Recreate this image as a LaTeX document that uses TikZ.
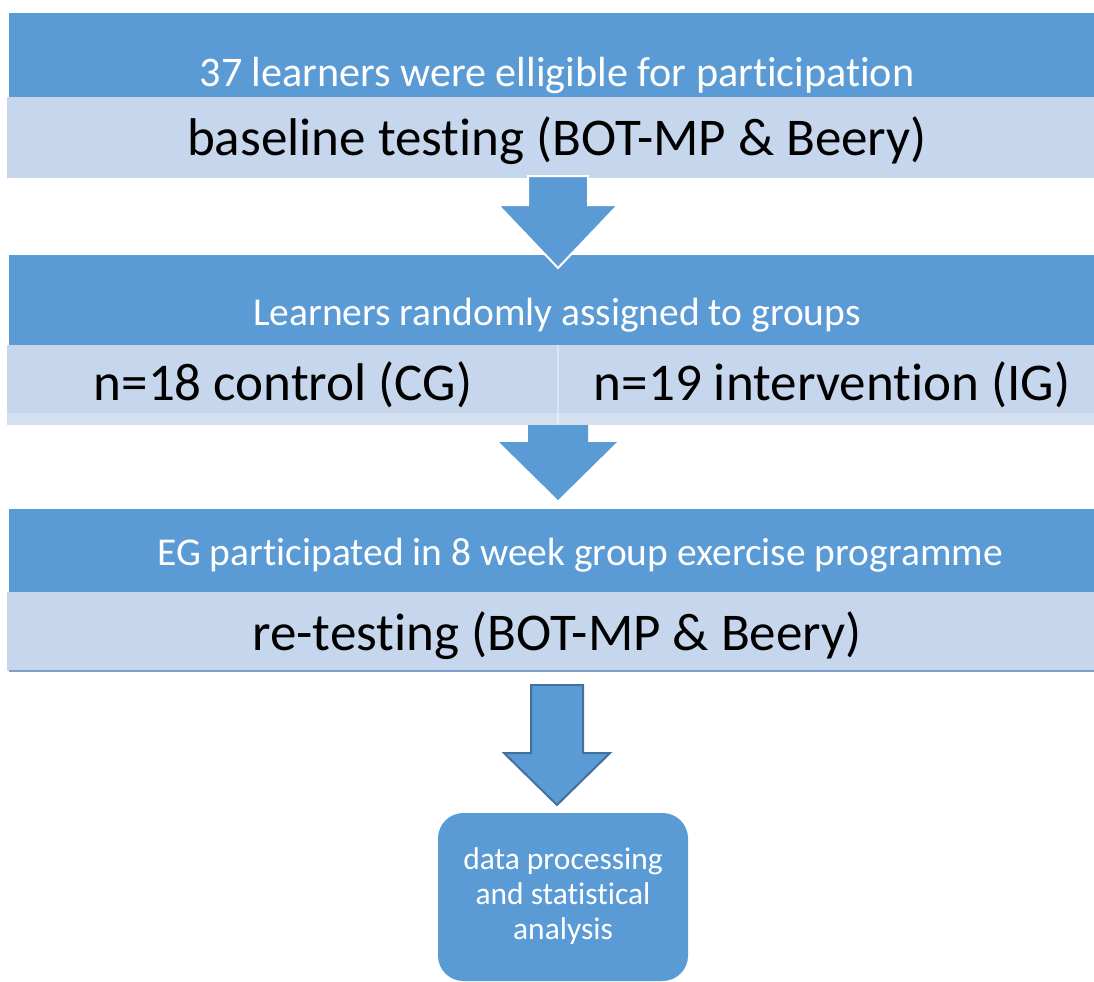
\documentclass[tikz,border=0pt]{standalone}
\usepackage{fontspec}
\setmainfont[Ligatures=NoCommon]{Carlito}
\definecolor{bandblue}{HTML}{5B9BD5}
\definecolor{bandlight}{HTML}{C6D6EC}
\definecolor{striplight}{HTML}{D4E0F0}
\definecolor{edgeblue}{HTML}{41719C}
\definecolor{lineblue}{HTML}{7F9FCB}

\begin{document}
\begin{tikzpicture}[x=0.75pt,y=-0.75pt,
  bigtext/.style={font=\fontsize{39.8}{47}\selectfont, anchor=base},
  midtext/.style={font=\fontsize{29.6}{36}\selectfont, text=white, anchor=base},
  smalltext/.style={font=\fontsize{23.6}{26.5}\selectfont, text=white, align=center}]
\clip (0,0) rectangle (1094,981);
\useasboundingbox (0,0) rectangle (1094,981);
% first stage
\fill [bandblue] (9,13) rectangle (1094,97);
\fill [bandlight] (7,97) rectangle (1094,178);
\node [midtext, font=\fontsize{31.6}{37}\selectfont] (eligible) at (557,86) {37 learners were elligible for participation};
\node [bigtext] (baseline) at (557,155) {baseline testing (BOT-MP \& Beery)};
% second stage
\fill [bandblue] (9,255) rectangle (1094,345);
\fill [bandlight] (7,345) rectangle (1094,425);
\fill [striplight] (7,413) rectangle (1094,425);
\draw [white, opacity=0.4, line width=1.5] (558,345) -- (558,425);
\node [midtext] (assigned) at (557,325) {Learners randomly assigned to groups};
\node [bigtext] (control) at (283,400) {n=18 control (CG)};
\node [bigtext] (interv) at (832,400) {n=19 intervention (IG)};
% third stage
\fill [bandblue] (9,509) rectangle (1094,592);
\fill [bandlight] (7,592) rectangle (1094,671);
\draw [lineblue, line width=1.2] (9,671) -- (1094,671);
\node [midtext] (exercise) at (580,565) {EG participated in 8 week group exercise programme};
\node [bigtext] (retest) at (557,650) {re-testing (BOT-MP \& Beery)};
% block arrows
\filldraw [fill=bandblue, draw=white, line width=1.5] (528,176) -- (588,176) -- (588,205) -- (618,205)
  -- (558,268) -- (498,205) -- (528,205) -- cycle;
\fill [bandblue] (528,425) -- (588,425) -- (588,442) -- (617,442) -- (558,500) -- (499,442) -- (528,442) -- cycle;
\filldraw [fill=bandblue, draw=edgeblue, line width=1.5] (531,685) -- (583,685) -- (583,753) -- (610,753)
  -- (557,805) -- (504,753) -- (531,753) -- cycle;
% last box
\fill [bandblue, rounded corners=19pt] (438,813) rectangle (688,981);
\node [smalltext] (analysis) at (563,896) {data processing\\and statistical\\analysis};
\end{tikzpicture}
\end{document}
